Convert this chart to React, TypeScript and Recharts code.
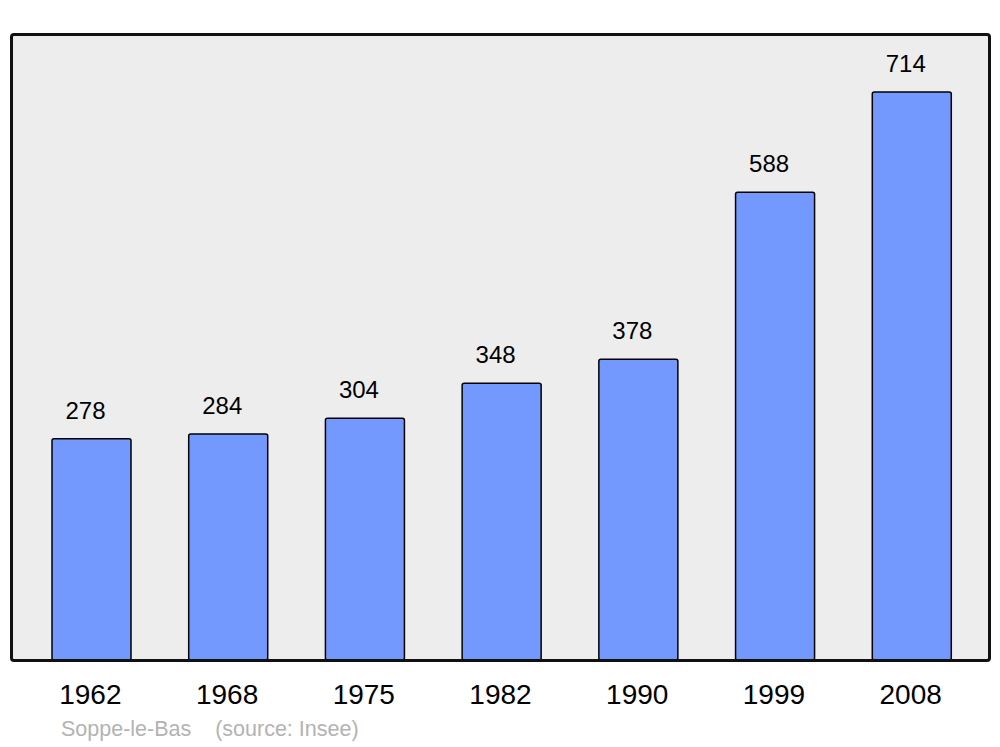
import { Bar, BarChart, CartesianGrid, LabelList, XAxis, YAxis } from "recharts";

const years = ["1962", "1968", "1975", "1982", "1990", "1999", "2008"];
const population = [278, 284, 304, 348, 378, 588, 714];

const chartData = years.map((year, i) => ({ year, population: population[i] }));

const FONT = "'Liberation Sans', Arial, sans-serif";

function YearTick(props: any) {
  const { x, y, payload } = props;
  return (
    <text x={x - 1} y={y + 44} textAnchor="middle" fontSize={28} fontFamily={FONT} fill="#000">
      {payload.value}
    </text>
  );
}

function ValueLabel(props: any) {
  const { x, y, width, value } = props;
  return (
    <text x={x + width / 2 - 6} y={y - 20} textAnchor="middle" fontSize={24} fontFamily={FONT} fill="#000">
      {value}
    </text>
  );
}

export default function App() {
  return (
    <div style={{ position: "absolute", left: 0, top: 0, width: 1000, height: 747, background: "#fff" }}>
      <BarChart
        width={1000}
        height={747}
        data={chartData}
        margin={{ top: 34, right: 11, bottom: 27, left: 11 }}
      >
        <CartesianGrid fill="#ededed" horizontal={false} vertical={false} stroke="none" />
        <XAxis
          dataKey="year"
          height={60}
          axisLine={false}
          tickLine={false}
          tickSize={0}
          tickMargin={0}
          padding={{ left: 12, right: 9 }}
          tick={<YearTick />}
          interval={0}
        />
        <YAxis hide domain={[0, 787]} />
        <Bar
          dataKey="population"
          fill="#7399ff"
          stroke="#000"
          strokeWidth={1.5}
          barSize={79}
          radius={2}
          isAnimationActive={false}
        >
          <LabelList dataKey="population" content={<ValueLabel />} />
        </Bar>
      </BarChart>
      <div
        style={{
          position: "absolute",
          left: 9.5,
          top: 32.5,
          width: 981,
          height: 629,
          boxSizing: "border-box",
          border: "3px solid #111",
          borderRadius: 4,
          pointerEvents: "none",
        }}
      />
      <div
        style={{
          position: "absolute",
          left: 61,
          top: 719,
          fontSize: 21.5,
          lineHeight: 1,
          fontFamily: FONT,
          color: "#b3b3b3",
          whiteSpace: "pre",
        }}
      >
        {"Soppe-le-Bas    (source: Insee)"}
      </div>
    </div>
  );
}
